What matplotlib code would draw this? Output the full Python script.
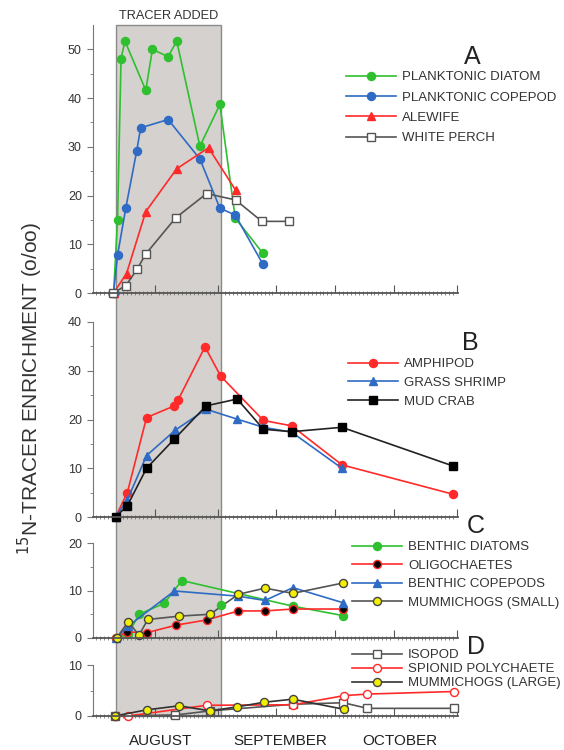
import matplotlib
matplotlib.use("Agg")
import matplotlib.pyplot as plt
from matplotlib.patches import Rectangle
import matplotlib.transforms as mtransforms

plt.rcParams['font.family'] = ['Liberation Sans', 'DejaVu Sans']

# day numbers counted from August 1 (= 1)
# panel A
diatom_day = [5.5, 6.5, 7.4, 8.4, 13.7, 15.4, 19.4, 21.6, 27.5, 32.6, 36.5, 43.5]
diatom_val = [0, 15.0, 48.1, 51.7, 41.6, 50.0, 48.5, 51.7, 30.1, 38.7, 15.4, 8.2]
copepod_day = [5.5, 6.5, 8.6, 11.4, 12.4, 19.4, 27.5, 32.6, 36.5, 43.5]
copepod_val = [0, 7.7, 17.4, 29.2, 33.9, 35.6, 27.5, 17.4, 16.0, 6.0]
alewife_day = [5.5, 8.8, 13.7, 21.6, 29.7, 36.6]
alewife_val = [0, 4.0, 16.7, 25.5, 29.8, 21.1]
perch_day = [5.4, 8.6, 11.5, 13.7, 21.3, 29.2, 36.6, 43.3, 50.3]
perch_val = [0, 1.5, 4.9, 8.0, 15.4, 20.4, 19.1, 14.7, 14.7]

# panel B
amphipod_day = [6.0, 9.0, 13.9, 21.0, 22.0, 28.8, 32.8, 43.7, 50.9, 63.7, 91.9]
amphipod_val = [0, 5.0, 20.4, 22.8, 24.1, 34.9, 28.9, 19.8, 18.7, 10.7, 4.7]
shrimp_day = [6.0, 9.0, 13.9, 21.2, 29.1, 36.9, 43.7, 50.9, 63.7]
shrimp_val = [0, 3.5, 12.6, 17.8, 22.1, 20.1, 18.4, 17.4, 10.0]
crab_day = [6.0, 9.0, 13.9, 21.0, 29.1, 37.0, 43.7, 50.9, 63.7, 91.9]
crab_val = [0, 2.3, 10.0, 16.0, 22.8, 24.2, 18.0, 17.5, 18.4, 10.5]

# panel C
bdiatom_day = [6.1, 9.2, 12.0, 18.4, 22.9, 51.2, 64.1]
bdiatom_val = [0, 0.8, 5.0, 7.3, 12.1, 6.7, 4.7]
bdiatom_extra_day = [33.0]
bdiatom_extra_val = [6.9]
olig_day = [6.1, 8.8, 13.9, 21.4, 29.2, 37.3, 44.1, 51.2, 64.1]
olig_val = [0, 1.3, 1.1, 2.7, 3.8, 5.7, 5.7, 6.1, 6.1]
bcop_day = [6.1, 9.2, 21.0, 37.3, 44.1, 51.2, 64.1]
bcop_val = [0, 2.5, 9.9, 8.8, 7.9, 10.6, 7.4]
mums_day = [6.3, 9.2, 12.0, 14.2, 22.2, 30.1, 37.3, 44.1, 51.2, 64.1]
mums_val = [0, 3.4, 0.6, 3.9, 4.6, 5.0, 9.2, 10.5, 9.4, 11.6]

# panel D
isopod_day = [5.8, 21.2, 30.1, 51.3, 64.1, 70.2, 92.3]
isopod_val = [0, 0.2, 1.0, 2.3, 2.6, 1.5, 1.5]
spionid_day = [5.8, 9.2, 29.2, 51.2, 64.3, 70.2, 92.2]
spionid_val = [0, 0, 2.1, 2.2, 4.0, 4.3, 4.8]
muml_day = [5.8, 13.9, 22.2, 30.1, 37.0, 43.9, 51.2, 64.3]
muml_val = [0, 1.2, 2.0, 1.0, 1.8, 2.7, 3.3, 1.3]

tracer_start, tracer_end = 6.1, 32.9
month_names = ["AUGUST", "SEPTEMBER", "OCTOBER"]
month_pos = [17.5, 48.0, 78.5]

GREEN = "#2ec02e"
BLUE = "#2f6bc4"
RED = "#ff2a2a"
DARK = "#555555"

fig = plt.figure(figsize=(5.64, 7.5), dpi=100)
left, width = 93 / 564, 365 / 564


def make_ax(bottom_px, top_px, ymax, yticks):
    b = 1 - bottom_px / 750
    h = (bottom_px - top_px) / 750
    ax = fig.add_axes([left, b, width, h])
    ax.set_facecolor("none")
    ax.set_xlim(0.25, 93.3)
    ax.set_ylim(0, ymax)
    ax.set_yticks(yticks)
    ax.set_yticks(range(5, ymax, 10), minor=True)
    ax.set_xticks([16, 32, 47, 62, 77, 93])
    ax.set_xticks(range(1, 94), minor=True)
    ax.set_xticklabels([])
    for s in ["top", "right"]:
        ax.spines[s].set_visible(False)
    ax.spines["left"].set_color("#777777")
    ax.spines["bottom"].set_color("#555555")
    ax.spines["bottom"].set_linewidth(1.3)
    ax.tick_params(axis="y", which="major", direction="out", length=4, color="#777777",
                   labelsize=9, labelcolor="#333333", pad=4)
    ax.tick_params(axis="y", which="minor", direction="out", length=2.5, color="#777777")
    ax.tick_params(axis="x", which="major", direction="in", length=6, color="#555555")
    ax.tick_params(axis="x", which="minor", direction="inout", length=3, width=0.6,
                   color="#777777")
    return ax


axA = make_ax(293, 25, 55, [0, 10, 20, 30, 40, 50])
axB = make_ax(517, 322, 40, [0, 10, 20, 30, 40])
axC = make_ax(638, 543, 20, [0, 10, 20])
axD = make_ax(716, 665, 10, [0, 10])

# tracer shading across all panels
trans = mtransforms.blended_transform_factory(axD.transData, fig.transFigure)
fig.patches.append(Rectangle((tracer_start, 1 - 716 / 750), tracer_end - tracer_start,
                             (716 - 25) / 750, transform=trans, facecolor="#d4d1ce",
                             edgecolor="#8a8a8a", linewidth=1.0, zorder=-5))
fig.text((119 + 218) / 2 / 564, 1 - 16 / 750, "TRACER ADDED", ha="center",
         va="center", fontsize=9.2, color="#333333")

lw = 1.2
ms = 5.8

axA.plot(diatom_day, diatom_val, color=GREEN, lw=lw, marker="o", ms=ms,
         mfc=GREEN, mec=GREEN, label="PLANKTONIC DIATOM", clip_on=False)
axA.plot(copepod_day, copepod_val, color=BLUE, lw=lw, marker="o", ms=ms,
         mfc=BLUE, mec=BLUE, label="PLANKTONIC COPEPOD", clip_on=False)
axA.plot(alewife_day, alewife_val, color=RED, lw=lw, marker="^", ms=ms,
         mfc=RED, mec=RED, label="ALEWIFE", clip_on=False)
axA.plot(perch_day, perch_val, color=DARK, lw=lw, marker="s", ms=ms,
         mfc="white", mec=DARK, label="WHITE PERCH", clip_on=False)

axB.plot(amphipod_day, amphipod_val, color=RED, lw=lw, marker="o", ms=ms,
         mfc=RED, mec=RED, label="AMPHIPOD", clip_on=False)
axB.plot(shrimp_day, shrimp_val, color=BLUE, lw=lw, marker="^", ms=ms,
         mfc=BLUE, mec=BLUE, label="GRASS SHRIMP", clip_on=False)
axB.plot(crab_day, crab_val, color="#222222", lw=lw, marker="s", ms=ms,
         mfc="black", mec="black", label="MUD CRAB", clip_on=False)

axC.plot(bdiatom_day, bdiatom_val, color=GREEN, lw=lw, marker="o", ms=ms,
         mfc=GREEN, mec=GREEN, label="BENTHIC DIATOMS", clip_on=False)
axC.plot(olig_day, olig_val, color=RED, lw=lw, marker="o", ms=ms,
         mfc="black", mec=RED, label="OLIGOCHAETES", clip_on=False)
axC.plot(bcop_day, bcop_val, color=BLUE, lw=lw, marker="^", ms=ms,
         mfc=BLUE, mec=BLUE, label="BENTHIC COPEPODS", clip_on=False)
axC.plot(mums_day, mums_val, color=DARK, lw=lw, marker="o", ms=ms,
         mfc="#f2f000", mec="#444444", label="MUMMICHOGS (SMALL)", clip_on=False)
axC.plot(bdiatom_extra_day, bdiatom_extra_val, ls="none", marker="o", ms=ms,
         mfc=GREEN, mec=GREEN)

axD.plot(isopod_day, isopod_val, color=DARK, lw=lw, marker="s", ms=ms,
         mfc="white", mec=DARK, label="ISOPOD", clip_on=False)
axD.plot(spionid_day, spionid_val, color=RED, lw=lw, marker="o", ms=ms,
         mfc="white", mec=RED, label="SPIONID POLYCHAETE", clip_on=False)
axD.plot(muml_day, muml_val, color="#333333", lw=lw, marker="o", ms=ms,
         mfc="#f2f000", mec="#444444", label="MUMMICHOGS (LARGE)", clip_on=False)


def add_legend(ax, x_px, y_px, spacing):
    leg = ax.legend(loc="upper left", bbox_to_anchor=(x_px / 564, 1 - y_px / 750),
                    bbox_transform=fig.transFigure, frameon=False, fontsize=9.5,
                    handlelength=3.8, handletextpad=0.45, labelspacing=spacing,
                    borderpad=0, borderaxespad=0)
    for t in leg.get_texts():
        t.set_color("#333333")
    return leg


add_legend(axA, 346, 71, 0.62)
add_legend(axB, 348, 358, 0.5)
add_legend(axC, 352, 541, 0.48)
add_legend(axD, 352, 649, 0.14)

for letter, (xp, yp) in zip("ABCD", [(472, 57), (470, 343), (476, 526), (476, 647)]):
    fig.text(xp / 564, 1 - yp / 750, letter, ha="center", va="center", fontsize=18,
             color="#222222")

for name, pos in zip(month_names, month_pos):
    fig.text(pos, 1 - 741 / 750, name, transform=trans, ha="center", va="center",
             fontsize=11, color="#222222")

fig.text(30 / 564, 1 - 388 / 750, r"$^{15}$N-TRACER ENRICHMENT (o/oo)", rotation=90,
         ha="center", va="center", fontsize=15, color="#333333")

fig.savefig("out.png", dpi=100)
